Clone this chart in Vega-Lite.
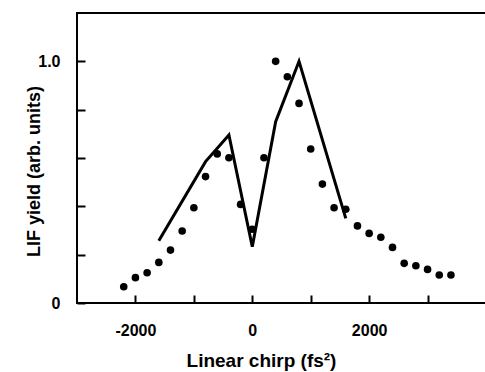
{
  "$schema": "https://vega.github.io/schema/vega-lite/v6.json",
  "width": 409,
  "height": 290,
  "autosize": "none",
  "padding": {"left": 77, "top": 13, "right": 0, "bottom": 69},
  "background": "white",
  "config": {
    "font": "Liberation Sans",
    "view": {"stroke": "black", "strokeWidth": 2},
    "axis": {
      "domain": false,
      "grid": false,
      "ticks": true,
      "tickSize": -8,
      "tickWidth": 2,
      "tickColor": "black",
      "labelFont": "Liberation Sans",
      "labelFontWeight": "bold",
      "labelFontSize": 16,
      "labelColor": "black",
      "titleFont": "Liberation Sans",
      "titleFontWeight": "bold",
      "titleFontSize": 18,
      "titleColor": "black"
    }
  },
  "datasets": {
    "measured": [
      {"chirp": -2200, "yield": 0.067},
      {"chirp": -2000, "yield": 0.105},
      {"chirp": -1800, "yield": 0.125},
      {"chirp": -1600, "yield": 0.168},
      {"chirp": -1400, "yield": 0.219},
      {"chirp": -1200, "yield": 0.298},
      {"chirp": -1000, "yield": 0.394},
      {"chirp": -800, "yield": 0.523},
      {"chirp": -600, "yield": 0.617},
      {"chirp": -400, "yield": 0.601},
      {"chirp": -200, "yield": 0.408},
      {"chirp": 0, "yield": 0.305},
      {"chirp": 200, "yield": 0.601},
      {"chirp": 400, "yield": 1.0},
      {"chirp": 600, "yield": 0.936},
      {"chirp": 800, "yield": 0.826},
      {"chirp": 1000, "yield": 0.637},
      {"chirp": 1200, "yield": 0.492},
      {"chirp": 1400, "yield": 0.394},
      {"chirp": 1600, "yield": 0.388},
      {"chirp": 1800, "yield": 0.319},
      {"chirp": 2000, "yield": 0.288},
      {"chirp": 2200, "yield": 0.272},
      {"chirp": 2400, "yield": 0.23},
      {"chirp": 2600, "yield": 0.164},
      {"chirp": 2800, "yield": 0.154},
      {"chirp": 3000, "yield": 0.139},
      {"chirp": 3200, "yield": 0.116},
      {"chirp": 3400, "yield": 0.116}
    ],
    "calculated": [
      {"chirp": -1600, "yield": 0.258},
      {"chirp": -800, "yield": 0.585},
      {"chirp": -400, "yield": 0.695},
      {"chirp": 0, "yield": 0.233},
      {"chirp": 400, "yield": 0.75},
      {"chirp": 800, "yield": 1.0},
      {"chirp": 1600, "yield": 0.35}
    ]
  },
  "encoding": {
    "x": {
      "field": "chirp",
      "type": "quantitative",
      "scale": {"domain": [-3000, 4000], "nice": false, "zero": false},
      "axis": {
        "title": "Linear chirp (fs²)",
        "values": [-2000, -1000, 0, 1000, 2000, 3000],
        "labelExpr": "(datum.value == -2000 || datum.value == 0 || datum.value == 2000) ? ('' + datum.value) : ''",
        "labelPadding": 27,
        "titlePadding": 13,
        "titleFontSize": 19,
        "titleX": 184
      }
    },
    "y": {
      "field": "yield",
      "type": "quantitative",
      "scale": {"domain": [0, 1.2], "nice": false},
      "axis": {
        "title": "LIF yield (arb. units)",
        "values": [0, 0.2, 0.4, 0.6, 0.8, 1.0],
        "labelExpr": "datum.value == 0 ? '0' : (abs(datum.value - 1) < 0.001 ? '1.0' : '')",
        "labelPadding": 25,
        "titleX": -34,
        "titleY": 158
      }
    }
  },
  "layer": [
    {
      "data": {"name": "calculated"},
      "mark": {"type": "line", "color": "black", "strokeWidth": 3, "strokeJoin": "miter"}
    },
    {
      "data": {"name": "measured"},
      "mark": {"type": "circle", "color": "black", "opacity": 1, "size": 58}
    }
  ]
}
